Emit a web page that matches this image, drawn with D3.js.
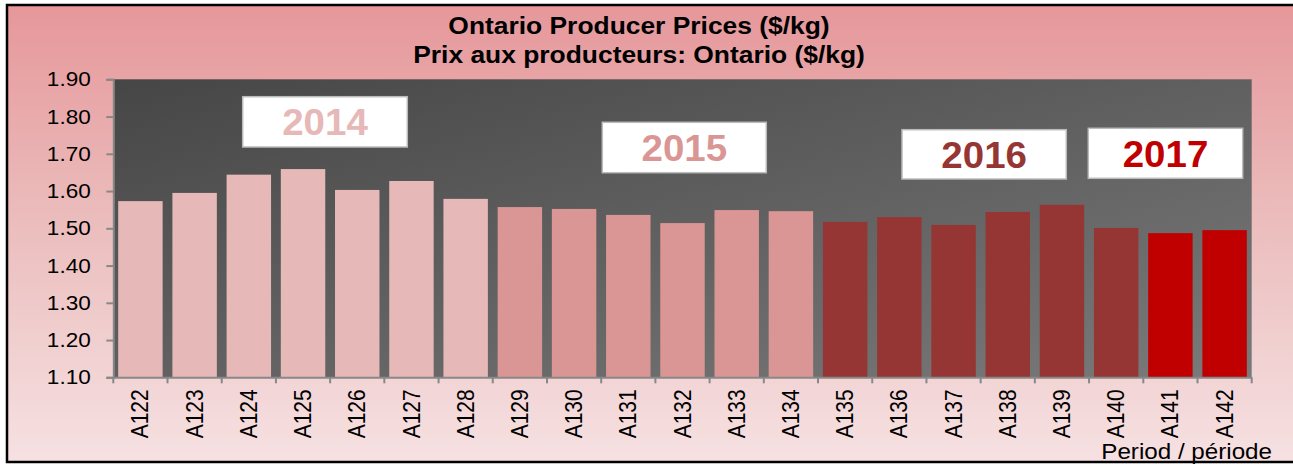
<!DOCTYPE html>
<html>
<head>
<meta charset="utf-8">
<script src="https://cdn.jsdelivr.net/npm/d3@7"></script>
<style>
html, body { margin: 0; padding: 0; background: #ffffff; }
svg { display: block; font-family: "Liberation Sans", Arial, sans-serif; }
</style>
</head>
<body>
<svg id="chart" width="1293" height="465"></svg>
<script>
const categories = ["A122","A123","A124","A125","A126","A127","A128","A129","A130","A131","A132","A133","A134","A135","A136","A137","A138","A139","A140","A141","A142"];
const values = [1.573,1.595,1.644,1.659,1.603,1.627,1.579,1.557,1.552,1.536,1.514,1.549,1.546,1.517,1.530,1.509,1.544,1.563,1.501,1.487,1.495];
const years = ["2014","2014","2014","2014","2014","2014","2014","2015","2015","2015","2015","2015","2015","2016","2016","2016","2016","2016","2016","2017","2017"];
const yearLabels = ["2014","2015","2016","2017"];
const yearColors = ["#E6B8B7","#DA9694","#963634","#C00000"];
const yTicks = [1.10,1.20,1.30,1.40,1.50,1.60,1.70,1.80,1.90];
const titleLines = ["Ontario Producer Prices ($/kg)","Prix aux producteurs: Ontario ($/kg)"];
const xAxisTitle = "Period / période";

const SX = 1.1; // horizontal stretch of the original rendering
const svg = d3.select("#chart");
const defs = svg.append("defs");

const bg = defs.append("linearGradient").attr("id","bgGrad").attr("x1",0).attr("y1",0).attr("x2",0).attr("y2",1);
bg.append("stop").attr("offset","0%").attr("stop-color","#E6979A");
bg.append("stop").attr("offset","45%").attr("stop-color","#EBBBBB");
bg.append("stop").attr("offset","100%").attr("stop-color","#F6E1E2");

const pg = defs.append("linearGradient").attr("id","plotGrad").attr("x1",0).attr("y1",0).attr("x2",1).attr("y2",1);
pg.append("stop").attr("offset","0%").attr("stop-color","#464646");
pg.append("stop").attr("offset","100%").attr("stop-color","#7A7A7A");

// chart background
svg.append("rect").attr("x",7).attr("y",5).attr("width",1300).attr("height",457)
  .attr("fill","url(#bgGrad)");

const m = {left:113.3, right:1251.7, top:79.3, bottom:377.3};

const x = d3.scaleBand().domain(categories).range([m.left, m.right]).paddingInner(0.18).paddingOuter(0.09);
const y = d3.scaleLinear().domain([1.10,1.90]).range([m.bottom, m.top]);

svg.append("rect").attr("x",m.left).attr("y",m.top).attr("width",m.right-m.left).attr("height",m.bottom-m.top)
  .attr("fill","url(#plotGrad)");

const colorOf = d3.scaleOrdinal().domain(yearLabels).range(yearColors);

svg.append("g").selectAll("rect").data(categories).join("rect")
  .attr("x", d => x(d))
  .attr("width", x.bandwidth())
  .attr("y", (d,i) => y(values[i]))
  .attr("height", (d,i) => y(1.10) - y(values[i]))
  .attr("fill", (d,i) => colorOf(years[i]));

// y axis
const yAxis = svg.append("g").attr("transform",`translate(${m.left},0)`)
  .call(d3.axisLeft(y).tickValues(yTicks).tickFormat(d3.format(".2f")).tickSize(7).tickPadding(0));
yAxis.select(".domain").attr("stroke","#888").attr("stroke-width",2);
yAxis.selectAll(".tick line").attr("stroke","#888").attr("stroke-width",2);
yAxis.selectAll(".tick text").attr("fill","#000").style("font-size","20.5px").style("font-family","Liberation Sans, Arial, sans-serif")
  .attr("x",0).attr("transform",`translate(-22.6,0) scale(${SX},1)`);

// x axis
const xAxis = svg.append("g").attr("transform",`translate(0,${m.bottom})`)
  .call(d3.axisBottom(x).tickSize(0).tickPadding(0));
xAxis.select(".domain").attr("stroke","#888").attr("stroke-width",2);
xAxis.selectAll(".tick text").attr("fill","#000").style("font-size","21px").style("font-family","Liberation Sans, Arial, sans-serif")
  .attr("transform",`scale(${SX},1) rotate(-90)`).attr("text-anchor","end").attr("x",-12).attr("y",0).attr("dy","0.35em");
// boundary ticks
const boundaries = categories.map(c => x(c) - x.step()*x.paddingInner()/2).concat([m.right]);
boundaries[0] = m.left;
xAxis.append("g").selectAll("line").data(boundaries).join("line")
  .attr("x1", d => d).attr("x2", d => d).attr("y1",0).attr("y2",6)
  .attr("stroke","#888").attr("stroke-width",2);

// year label boxes
const yearBoxes = [
  {label:"2014", x0:242.7, x1:407.3, y0:96.7, y1:147},
  {label:"2015", x0:602.3, x1:766.3, y0:122.3, y1:172.7},
  {label:"2016", x0:902, x1:1066.3, y0:129.7, y1:179},
  {label:"2017", x0:1088.3, x1:1242.7, y0:128.3, y1:178.3}
];
const bx = svg.append("g").selectAll("g").data(yearBoxes).join("g");
bx.append("rect").attr("x",d=>d.x0).attr("y",d=>d.y0).attr("width",d=>d.x1-d.x0).attr("height",d=>d.y1-d.y0)
  .attr("fill","#fff").attr("stroke","#bbb").attr("stroke-width",1.5);
bx.append("text").attr("transform",d=>`translate(${(d.x0+d.x1)/2},${(d.y0+d.y1)/2+13.5}) scale(1.04,1)`)
  .attr("text-anchor","middle").style("font-size","37px").style("font-weight","bold")
  .attr("fill",d=>colorOf(d.label)).text(d=>d.label);

// title
svg.append("g").selectAll("text").data(titleLines).join("text")
  .attr("transform",(d,i)=>`translate(639,${34 + i*29.3}) scale(${SX},1)`)
  .attr("text-anchor","middle").style("font-size","24px").style("font-weight","bold").attr("fill","#000")
  .text(d=>d);

// axis title
svg.append("text").attr("transform",`translate(1272,459) scale(${SX},1)`).attr("text-anchor","end")
  .style("font-size","22px").attr("fill","#000").text(xAxisTitle);

// outer border drawn on top
svg.append("rect").attr("x",7).attr("y",5).attr("width",1300).attr("height",457)
  .attr("fill","none").attr("stroke","#000").attr("stroke-width",2.5);
</script>
</body>
</html>
